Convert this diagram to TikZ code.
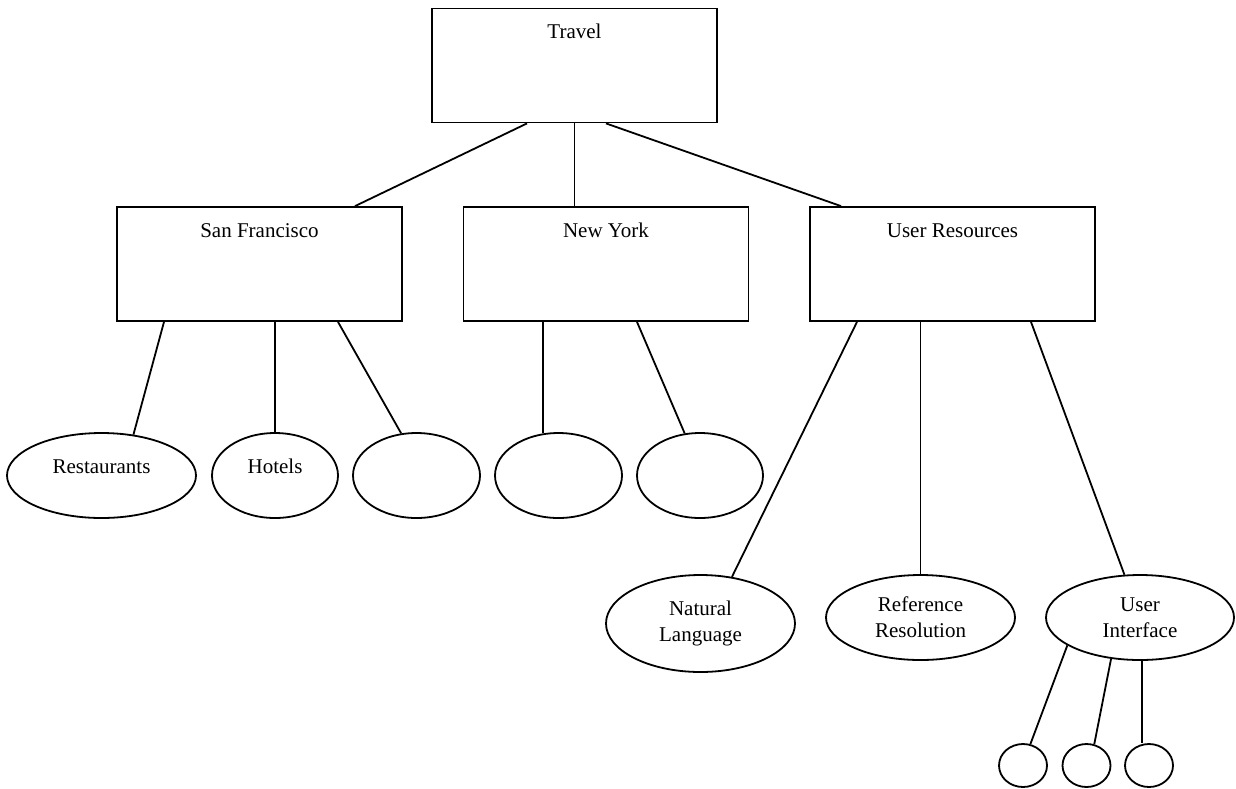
\documentclass[tikz,border=0pt]{standalone}
\usepackage{fontspec}
\setmainfont{Liberation Serif}
\usetikzlibrary{shapes.geometric,calc}
\tikzstyle{boxStyle}=[shape = rectangle, draw, minimum width = 285pt, inner sep = 0pt, text height = 30pt, text depth = 84pt]
\tikzstyle{leafStyle}=[shape = ellipse, draw, inner sep = 0pt, align = center, minimum width = 189pt, minimum height = 85pt]
\tikzstyle{upLeaf}=[text height = 14pt, text depth = 19pt]
\tikzstyle{smallStyle}=[shape = ellipse, draw, inner sep = 0pt, minimum width = 48pt, minimum height = 43pt]

\begin{document}
\begin{tikzpicture}[x = 1pt, y = -1pt, line width = 1.8pt, font = \fontsize{21}{26}\selectfont]
\useasboundingbox (0,0) rectangle (1236,788);
\node[boxStyle] (travel) at (574.5,65.5) {Travel};
\node[boxStyle] (sf) at (259.5,264) {San Francisco};
\node[boxStyle] (ny) at (606,264) {New York};
\node[boxStyle] (ur) at (952.5,264) {User Resources};
\node[leafStyle, upLeaf] (rest) at (101.5,475.5) {Restaurants};
\node[leafStyle, upLeaf, minimum width = 126pt] (hotel) at (275,475.5) {Hotels};
\node[leafStyle, minimum width = 127pt] (sfx) at (416.5,475.5) {};
\node[leafStyle, minimum width = 127pt] (nya) at (558.5,475.5) {};
\node[leafStyle, minimum width = 126pt] (nyb) at (700,475.5) {};
\node[leafStyle, minimum height = 97pt] (nl) at (700.5,623.5) {Natural\\Language};
\node[leafStyle] (rr) at (920.5,617.5) {Reference\\Resolution};
\node[leafStyle, minimum width = 188pt] (ui) at (1140,617.5) {User\\Interface};
\node[smallStyle] (uia) at (1023,765.5) {};
\node[smallStyle] (uib) at (1086.5,765.5) {};
\node[smallStyle] (uic) at (1149,765.5) {};
\draw ($(travel.south)+(-47.5,0)$) -- ($(sf.north)+(95.5,0)$);
\draw (travel.south) -- (travel.south |- ny.north);
\draw ($(travel.south)+(31.5,0)$) -- ($(ur.north)+(-111.5,0)$);
\draw ($(sf.south)+(-95.5,0)$) -- (rest.52);
\draw (hotel.north |- sf.south) -- (hotel.north);
\draw ($(sf.south)+(78.5,0)$) -- (sfx.110);
\draw (nya.110 |- ny.south) -- (nya.110);
\draw ($(ny.south)+(31,0)$) -- (nyb.110);
\draw ($(ur.south)+(-95.5,0)$) -- (nl.56);
\draw (rr.north |- ur.south) -- (rr.north);
\draw ($(ur.south)+(78.5,0)$) -- (ui.110);
\draw (ui.-159) -- (uia.71);
\draw (ui.-125) -- (uib.70);
\draw ($(ui.south)+(2,0)$) -- ($(ui.south |- uic.north)+(2,0)$);
\end{tikzpicture}
\end{document}
